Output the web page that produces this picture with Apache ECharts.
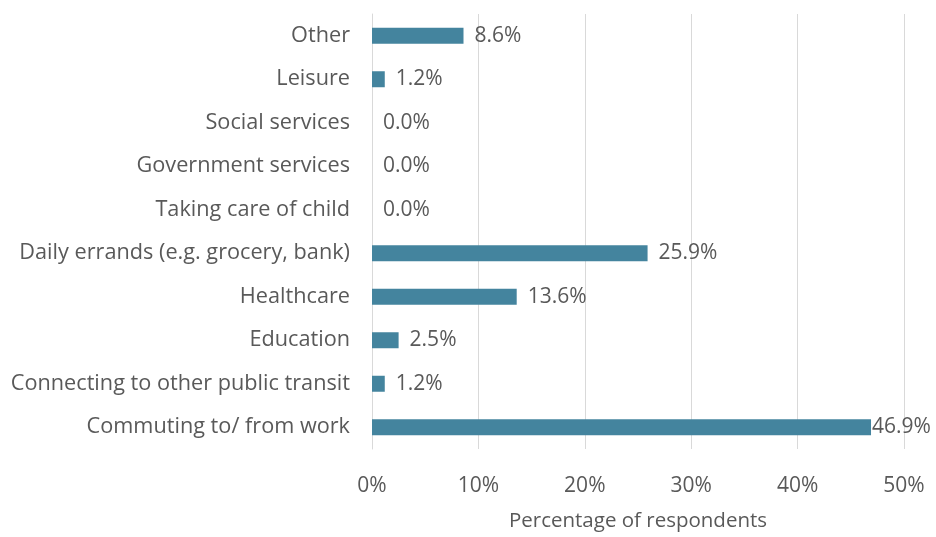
<!DOCTYPE html>
<html>
<head>
<meta charset="utf-8">
<script src="https://cdn.jsdelivr.net/npm/echarts@6/dist/echarts.min.js"></script>
<style>
  html, body { margin: 0; padding: 0; background: #fff; }
  #chart { width: 936px; height: 537px; }
</style>
</head>
<body>
<div id="chart"></div>
<script>
// categories listed bottom to top, as the category axis draws them
const categories = [
  'Commuting to/ from work',
  'Connecting to other public transit',
  'Education',
  'Healthcare',
  'Daily errands (e.g. grocery, bank)',
  'Taking care of child',
  'Government services',
  'Social services',
  'Leisure',
  'Other'
];
const shares = [46.9, 1.2, 2.5, 13.6, 25.9, 0.0, 0.0, 0.0, 1.2, 8.6];
const xTicks = [0, 10, 20, 30, 40, 50];

const FONT = '"Open Sans", "Noto Sans", sans-serif';
const TEXT = '#595959';

// the longest bar keeps its label tight against the bar end, like the source
const maxShare = Math.max(...shares);
const barData = shares.map(v => v === maxShare
  ? { value: v, label: { distance: 1 } }
  : v);

const chart = echarts.init(document.getElementById('chart'));
chart.setOption({
  backgroundColor: '#fff',
  animation: false,
  grid: { left: 372, right: 32, top: 14, bottom: 68, containLabel: false },
  xAxis: {
    type: 'value',
    min: xTicks[0],
    max: xTicks[xTicks.length - 1],
    interval: 10,
    name: 'Percentage of respondents',
    nameLocation: 'middle',
    nameGap: 62,
    nameTextStyle: { color: TEXT, fontFamily: FONT, fontSize: 20.5 },
    axisLine: { show: false },
    axisTick: { show: false },
    axisLabel: {
      color: TEXT, fontFamily: FONT, fontSize: 21, margin: 27,
      formatter: v => v + '%'
    },
    splitLine: { lineStyle: { color: '#d9d9d9', width: 1 } }
  },
  yAxis: {
    type: 'category',
    data: categories,
    axisLine: { show: true, lineStyle: { color: '#d9d9d9', width: 1 } },
    axisTick: { show: false },
    axisLabel: { color: TEXT, fontFamily: FONT, fontSize: 21.7, margin: 22 }
  },
  series: [{
    type: 'bar',
    data: barData,
    barWidth: 16,
    itemStyle: { color: '#44849e' },
    label: {
      show: true,
      position: 'right',
      distance: 11,
      color: TEXT,
      fontFamily: FONT,
      fontSize: 21,
      formatter: p => p.value.toFixed(1) + '%'
    }
  }]
});
</script>
</body>
</html>
